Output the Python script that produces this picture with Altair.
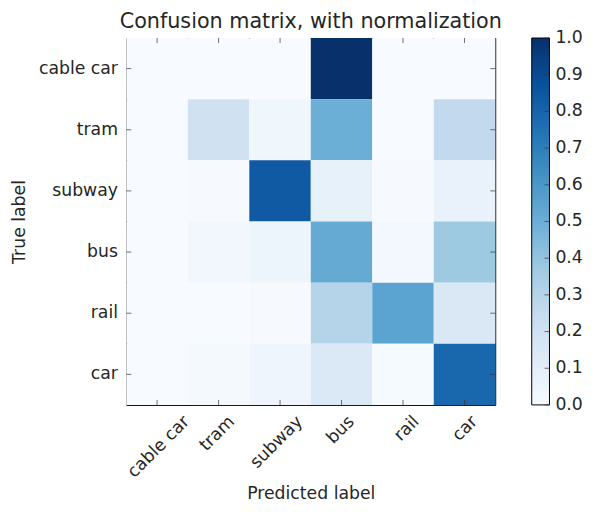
import altair as alt
import pandas as pd

# ---- data -------------------------------------------------------------
title_text = "Confusion matrix, with normalization"
classes = ["cable car", "tram", "subway", "bus", "rail", "car"]

# row-normalized confusion matrix (rows = true label, cols = predicted label)
row_cable_car = [0.00, 0.000, 0.000, 1.00, 0.000, 0.000]
row_tram      = [0.00, 0.200, 0.040, 0.50, 0.000, 0.260]
row_subway    = [0.00, 0.005, 0.840, 0.08, 0.005, 0.070]
row_bus       = [0.00, 0.030, 0.050, 0.52, 0.025, 0.375]
row_rail      = [0.00, 0.000, 0.005, 0.30, 0.550, 0.145]
row_car       = [0.00, 0.015, 0.045, 0.14, 0.010, 0.790]
matrix = [row_cable_car, row_tram, row_subway, row_bus, row_rail, row_car]

colorbar_ticks = [0.0, 0.1, 0.2, 0.3, 0.4, 0.5, 0.6, 0.7, 0.8, 0.9, 1.0]

# matplotlib "Blues" colormap anchor colours
blues_stops = [0.0, 0.125, 0.25, 0.375, 0.5, 0.625, 0.75, 0.875, 1.0]
blues_colors = ["#f7fbff", "#deebf7", "#c6dbef", "#9ecae1", "#6baed6",
                "#4292c6", "#2171b5", "#08519c", "#08306b"]

records = []
for i, t in enumerate(classes):
    for j, p in enumerate(classes):
        records.append({"true": t, "pred": p, "value": matrix[i][j]})
df = pd.DataFrame(records)
xdf = pd.DataFrame({"pred": classes})
ydf = pd.DataFrame({"true": classes})
cbdf = pd.DataFrame({"v": colorbar_ticks})
tdf = pd.DataFrame({"t": [title_text]})

# ---- layout -----------------------------------------------------------
W, H = 374, 372
CB_X, CB_W = 411, 18          # colour bar position (relative to plot) and width
FONT = "DejaVu Sans"
TXT = "#262626"
FS = 17.5
TICK = "#333333"

band = alt.Scale(paddingInner=0, paddingOuter=0)

x_enc = alt.X("pred:N", sort=classes, scale=band,
              axis=alt.Axis(title="Predicted label", labels=False,
                            ticks=False, domain=False,
                            titleFontSize=FS, titleColor=TXT,
                            titleFontWeight="normal", titlePadding=81,
                            titleFont=FONT))
y_enc = alt.Y("true:N", sort=classes, scale=band,
              axis=alt.Axis(title="True label", ticks=False, domain=False,
                            labelPadding=9, labelFontSize=FS, titleFontSize=FS,
                            labelColor=TXT, titleColor=TXT,
                            titleFontWeight="normal", titlePadding=10,
                            labelFont=FONT, titleFont=FONT))
y_plain = alt.Y("true:N", sort=classes, scale=band, axis=None)
cb_y = alt.Y("v:Q", scale=alt.Scale(domain=[0, 1]), axis=None)

heat = alt.Chart(df).mark_rect(strokeWidth=0).encode(
    x=x_enc,
    y=y_enc,
    color=alt.Color("value:Q",
                    scale=alt.Scale(domain=blues_stops, range=blues_colors,
                                    interpolate="rgb"),
                    legend=None),
)

# rotated x tick labels (matplotlib-style: centred on the tick, top-aligned)
xlabels = alt.Chart(xdf).mark_text(
    angle=315, align="right", baseline="top", font=FONT, fontSize=FS,
    color=TXT,
    dx={"expr": "2.33*length(datum.pred) - 4.2"},
    dy={"expr": "2.33*length(datum.pred) - 4.2"},
).encode(x=x_enc, y=alt.value(H + 8), text="pred:N")

# inward ticks on all four sides of the image
tick_top = alt.Chart(xdf).mark_tick(orient="vertical", size=5, thickness=1, color=TICK).encode(
    x=x_enc, y=alt.value(2.5))
tick_bot = alt.Chart(xdf).mark_tick(orient="vertical", size=5, thickness=1, color=TICK).encode(
    x=x_enc, y=alt.value(H - 2.5))
tick_left = alt.Chart(ydf).mark_tick(orient="horizontal", size=5, thickness=1, color=TICK).encode(
    y=y_plain, x=alt.value(2.5))
tick_right = alt.Chart(ydf).mark_tick(orient="horizontal", size=5, thickness=1, color=TICK).encode(
    y=y_plain, x=alt.value(W - 2.5))

# colour bar: one rect filled with the Blues gradient (0 at bottom, 1 at top)
gradient = alt.LinearGradient(
    gradient="linear", x1=0, y1=1, x2=0, y2=0,
    stops=[alt.GradientStop(offset=o, color=c)
           for o, c in zip(blues_stops, blues_colors)])
cbar = alt.Chart(tdf).mark_rect(
    color=gradient, stroke="black", strokeWidth=1
).encode(x=alt.value(CB_X), x2=alt.value(CB_X + CB_W),
         y=alt.value(0), y2=alt.value(H))

cb_ticks = alt.Chart(cbdf).mark_tick(orient="horizontal", size=5, thickness=1, color=TICK).encode(
    y=cb_y, x=alt.value(CB_X + CB_W - 2.5))
cb_labels = alt.Chart(cbdf).mark_text(
    align="left", baseline="middle", font=FONT, fontSize=FS, color=TXT
).encode(y=cb_y, x=alt.value(CB_X + CB_W + 6),
         text=alt.Text("v:Q", format=".1f"))

title = alt.Chart(tdf).mark_text(
    align="center", baseline="alphabetic", font=FONT, fontSize=21, color=TXT
).encode(x=alt.value(W / 2), y=alt.value(-10), text="t:N")

chart = alt.layer(
    heat, xlabels, tick_top, tick_bot, tick_left, tick_right,
    cbar, cb_ticks, cb_labels, title
).resolve_scale(y="independent").properties(
    width=W, height=H,
    autosize=alt.AutoSizeParams(type="none"),
    padding={"left": 120, "top": 27, "right": 90, "bottom": 97},
).configure_view(stroke="black", strokeWidth=1)

chart.save("out.html", embed_options={"renderer": "svg", "actions": False})
